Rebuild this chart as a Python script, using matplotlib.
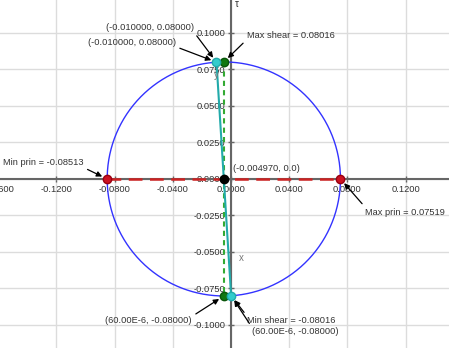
import numpy as np
import matplotlib
matplotlib.use("Agg")
from matplotlib import pyplot as plt
from matplotlib.ticker import FormatStrFormatter

plt.rcParams['font.family'] = ['Liberation Sans', 'DejaVu Sans']

# Mohr's circle values
center = -0.004970
radius = 0.08016
min_prin = -0.08513
max_prin = 0.07519
max_shear = 0.08016
min_shear = -0.08016
face_x = (-0.010000, 0.08000)
face_y = (60.00e-6, -0.08000)

x_ticks = [-0.12, -0.08, -0.04, 0.0, 0.04, 0.08, 0.12]
y_ticks = [-0.1, -0.075, -0.05, -0.025, 0.0, 0.025, 0.05, 0.075, 0.1]

fig = plt.figure(figsize=(4.49, 3.48), dpi=100)
ax = fig.add_axes([0, 0, 1, 1])
ax.set_xlim(-0.1588, 0.1498)
ax.set_ylim(-0.1158, 0.1226)

# grid + axes through origin
ax.set_xticks(x_ticks)
ax.set_yticks(y_ticks)
ax.grid(True, color='#dcdcdc', lw=1)
ax.set_axisbelow(True)
ax.spines['left'].set_position('zero')
ax.spines['bottom'].set_position('zero')
ax.spines['right'].set_visible(False)
ax.spines['top'].set_visible(False)
for s in ['left', 'bottom']:
    ax.spines[s].set_color('#666666')
    ax.spines[s].set_linewidth(1.5)
ax.xaxis.set_major_formatter(FormatStrFormatter('%.4f'))
ax.yaxis.set_major_formatter(FormatStrFormatter('%.4f'))
ax.tick_params(direction='inout', length=4, width=1, color='#666666',
               labelsize=6.7, labelcolor='#333333', pad=2)

# tick labels cut by the edge
ax.annotate('-0.1600', xy=(-0.16, 0), xytext=(0, -4), textcoords='offset points',
            ha='center', va='top', fontsize=6.7, color='#333333', annotation_clip=False)
ax.annotate('0.1250', xy=(0, 0.125), xytext=(-4, 0), textcoords='offset points',
            ha='right', va='center', fontsize=6.7, color='#333333', annotation_clip=False)
ax.annotate('\u03c4', xy=(0, 1), xycoords=('data', 'axes fraction'), xytext=(3, 1),
            textcoords='offset points', ha='left', va='top', fontsize=7, color='#333333')

# circle
t = np.linspace(0, 2 * np.pi, 400)
ax.plot(center + radius * np.cos(t), radius * np.sin(t), color='#3333ff', lw=1, zorder=3)

# lines
ax.plot([min_prin, max_prin], [0, 0], color='#cc2222', lw=1.8, ls=(0, (5.5, 3)), zorder=4)
ax.plot([center, center], [max_shear, min_shear], color='#33aa33', lw=1.5, ls=(0, (2.5, 2)), zorder=4)
ax.plot([face_x[0], face_y[0]], [face_x[1], face_y[1]], color='#22aaaa', lw=1.5, zorder=4)

# points
ax.plot([min_prin, max_prin], [0, 0], 'o', ms=6, color='#cc1122', mec='#990011', zorder=6)
ax.plot([center, center], [max_shear, min_shear], 'o', ms=6, color='#117711', mec='#0a550a', zorder=6)
ax.plot([face_x[0], face_y[0]], [face_x[1], face_y[1]], 'o', ms=6, color='#33cccc', mec='#22aaaa', zorder=6)
ax.plot([center], [0], 'o', ms=6, color='black', zorder=6)

txt = dict(fontsize=6.7, color='#333333', textcoords='offset points', va='center')
arr = dict(arrowstyle='-|>', color='black', lw=0.9, mutation_scale=8, shrinkA=1, shrinkB=4)

def fmt(v):
    return '%.5f' % v

ax.annotate('(%.6f, %.5f)' % face_x, xy=face_x, xytext=(-48, 25), ha='center',
            arrowprops=dict(arr, relpos=(1, 0)), **txt)
ax.annotate('(%.6f, %.5f)' % face_x, xy=face_x, xytext=(-61, 14.4), ha='center',
            arrowprops=dict(arr, relpos=(1, 0)), **txt)
ax.annotate('Max shear = ' + fmt(max_shear), xy=(center, max_shear), xytext=(16.6, 19.4), ha='left',
            arrowprops=dict(arr, relpos=(0, 0)), **txt)
ax.annotate('Min prin = ' + fmt(min_prin), xy=(min_prin, 0), xytext=(-75, 11.5), ha='left',
            arrowprops=dict(arr, relpos=(1, 0)), **txt)
ax.annotate('Max prin = ' + fmt(max_prin), xy=(max_prin, 0), xytext=(18, -23.8), ha='left',
            arrowprops=dict(arr, relpos=(0, 1)), **txt)
ax.annotate('(%.6f, 0.0)' % center, xy=(center, 0), xytext=(6.5, 7.2), ha='left', **txt)
ax.annotate('(60.00E-6, %.5f)' % face_y[1], xy=(center, min_shear), xytext=(-23, -18), ha='right',
            arrowprops=dict(arr, relpos=(1, 1)), **txt)
ax.annotate('Min shear = ' + fmt(min_shear), xy=face_y, xytext=(11.5, -18), ha='left',
            arrowprops=dict(arr, relpos=(0, 1)), **txt)
ax.annotate('(60.00E-6, %.5f)' % face_y[1], xy=face_y, xytext=(15, -26), ha='left',
            arrowprops=dict(arr, relpos=(0, 1)), **txt)

# face labels
ax.annotate('y', xy=face_x, xytext=(0, -9), textcoords='offset points', ha='center', va='center',
            fontsize=7, color='#777777', zorder=7)
ax.annotate('x', xy=face_y, xytext=(7, 27), textcoords='offset points', ha='center', va='center',
            fontsize=7, color='#777777', zorder=7)

fig.savefig('out.png', dpi=100)
